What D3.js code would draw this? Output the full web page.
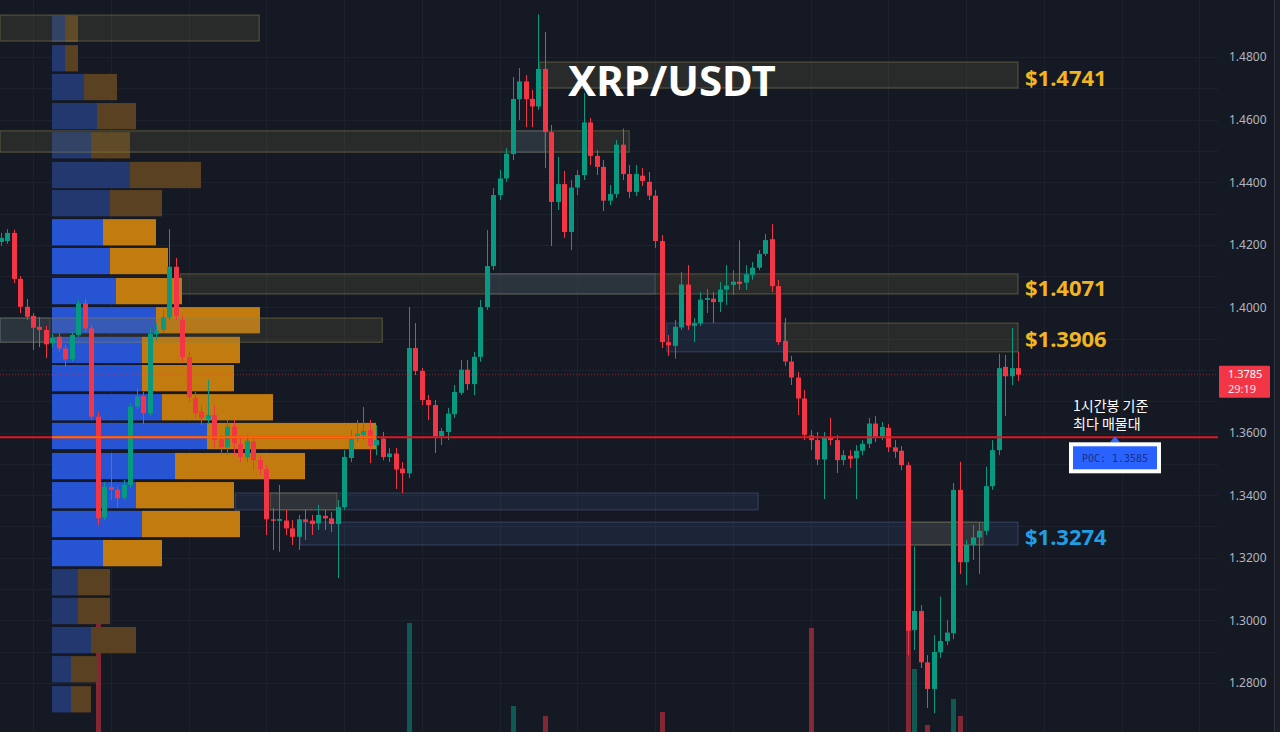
<!DOCTYPE html>
<html>
<head>
<meta charset="utf-8">
<script src="https://cdn.jsdelivr.net/npm/d3@7/dist/d3.min.js"></script>
<style>
  html, body { margin: 0; padding: 0; background: #151924; }
  svg { display: block; }
</style>
</head>
<body>
<svg id="chart" width="1280" height="732"></svg>
<script>
// 1시간봉 캔들 (왼쪽 -> 오른쪽)
var opens = [1.4209,1.4212,1.4238,1.4091,1.4002,1.3973,1.3938,1.3928,1.3885,1.3906,
  1.3869,1.3834,1.3912,1.4013,1.3933,1.3651,1.3329,1.3426,1.3417,1.3392,
  1.3433,1.3683,1.3717,1.3662,1.3914,1.3928,1.3968,1.4130,1.3960,1.3841,
  1.3710,1.3667,1.3643,1.3656,1.3579,1.3553,1.3619,1.3564,1.3521,1.3571,
  1.3512,1.3483,1.3323,1.3318,1.3319,1.3294,1.3267,1.3323,1.3319,1.3310,
  1.3334,1.3326,1.3308,1.3362,1.3519,1.3580,1.3592,1.3608,1.3560,1.3581,
  1.3522,1.3533,1.3485,1.3470,1.3870,1.3797,1.3704,1.3688,1.3589,1.3602,
  1.3659,1.3727,1.3801,1.3755,1.3842,1.4001,1.4132,1.4359,1.4412,1.4490,
  1.4665,1.4722,1.4666,1.4642,1.4762,1.4560,1.4337,1.4394,1.4241,1.4383,
  1.4423,1.4591,1.4484,1.4449,1.4341,1.4362,1.4520,1.4426,1.4369,1.4421,
  1.4401,1.4357,1.4212,1.3889,1.3877,1.3936,1.4073,1.3941,1.3949,1.4024,
  1.4028,1.4017,1.4057,1.4072,1.4082,1.4079,1.4104,1.4127,1.4171,1.4218,
  1.4068,1.3893,1.3827,1.3776,1.3709,1.3591,1.3576,1.3514,1.3586,1.3576,
  1.3512,1.3526,1.3518,1.3542,1.3564,1.3629,1.3588,1.3615,1.3553,1.3542,
  1.3496,1.2969,1.3030,1.2866,1.2781,1.2898,1.2934,1.2959,1.3417,1.3186,
  1.3241,1.3265,1.3286,1.3429,1.3544,1.3810,1.3780,1.3806];
var highs = [1.4238,1.4250,1.4248,1.4100,1.4027,1.3982,1.3969,1.3941,1.3915,1.3918,
  1.3880,1.3921,1.4024,1.4027,1.3944,1.3666,1.3442,1.3535,1.3429,1.3449,
  1.3695,1.3742,1.3730,1.3934,1.3950,1.3992,1.4250,1.4158,1.3976,1.3858,
  1.3730,1.3688,1.3768,1.3688,1.3592,1.3640,1.3640,1.3583,1.3592,1.3589,
  1.3528,1.3496,1.3359,1.3433,1.3353,1.3321,1.3337,1.3353,1.3337,1.3369,
  1.3353,1.3346,1.3385,1.3544,1.3608,1.3640,1.3682,1.3640,1.3624,1.3602,
  1.3551,1.3551,1.3506,1.4001,1.3950,1.3806,1.3720,1.3704,1.3615,1.3679,
  1.3752,1.3832,1.3832,1.3858,1.4024,1.4247,1.4381,1.4439,1.4509,1.4736,
  1.4765,1.4742,1.4695,1.4936,1.4880,1.4583,1.4481,1.4436,1.4407,1.4439,
  1.4685,1.4605,1.4503,1.4471,1.4391,1.4535,1.4571,1.4455,1.4455,1.4445,
  1.4433,1.4375,1.4231,1.3912,1.3960,1.4113,1.4135,1.3966,1.4049,1.4059,
  1.4049,1.4081,1.4135,1.4119,1.4214,1.4135,1.4145,1.4183,1.4235,1.4266,
  1.4088,1.3966,1.3845,1.3794,1.3736,1.3608,1.3602,1.3602,1.3647,1.3592,
  1.3544,1.3544,1.3560,1.3576,1.3647,1.3653,1.3634,1.3627,1.3576,1.3557,
  1.3506,1.3236,1.3049,1.2889,1.2953,1.3076,1.3001,1.3439,1.3507,1.3257,
  1.3305,1.3314,1.3491,1.3576,1.3852,1.3848,1.3934,1.3858];
var lows = [1.4196,1.4203,1.4078,1.3982,1.3960,1.3864,1.3873,1.3838,1.3873,1.3858,
  1.3811,1.3826,1.3906,1.3921,1.3640,1.3305,1.3321,1.3385,1.3359,1.3385,
  1.3423,1.3675,1.3627,1.3653,1.3896,1.3918,1.3960,1.3960,1.3826,1.3698,
  1.3647,1.3624,1.3627,1.3551,1.3528,1.3528,1.3528,1.3506,1.3506,1.3480,
  1.3465,1.3273,1.3225,1.3219,1.3273,1.3241,1.3225,1.3257,1.3273,1.3289,
  1.3289,1.3282,1.3135,1.3353,1.3506,1.3570,1.3576,1.3503,1.3528,1.3512,
  1.3506,1.3420,1.3407,1.3455,1.3784,1.3688,1.3640,1.3535,1.3560,1.3576,
  1.3647,1.3720,1.3736,1.3720,1.3826,1.3992,1.4119,1.4343,1.4401,1.4471,
  1.4599,1.4576,1.4576,1.4631,1.4445,1.4196,1.4311,1.4222,1.4183,1.4359,
  1.4407,1.4455,1.4423,1.4308,1.4327,1.4350,1.4407,1.4350,1.4356,1.4388,
  1.4343,1.4190,1.3870,1.3845,1.3836,1.3928,1.3928,1.3889,1.3941,1.3982,
  1.3950,1.3985,1.4008,1.4040,1.4056,1.4056,1.4088,1.4119,1.4164,1.4049,
  1.3880,1.3813,1.3752,1.3656,1.3576,1.3544,1.3496,1.3388,1.3560,1.3471,
  1.3496,1.3487,1.3388,1.3528,1.3551,1.3570,1.3576,1.3538,1.3519,1.3480,
  1.2889,1.2905,1.2848,1.2720,1.2704,1.2880,1.2921,1.2940,1.3148,1.3113,
  1.3193,1.3148,1.3273,1.3417,1.3528,1.3653,1.3752,1.3765];
var closes = [1.4222,1.4238,1.4091,1.4002,1.3970,1.3935,1.3928,1.3882,1.3903,1.3869,
  1.3834,1.3912,1.4013,1.3933,1.3651,1.3326,1.3427,1.3417,1.3390,1.3433,
  1.3683,1.3715,1.3662,1.3917,1.3925,1.3968,1.4130,1.3973,1.3841,1.3713,
  1.3662,1.3646,1.3656,1.3576,1.3553,1.3619,1.3566,1.3523,1.3574,1.3512,
  1.3483,1.3323,1.3319,1.3324,1.3294,1.3267,1.3323,1.3315,1.3308,1.3337,
  1.3326,1.3308,1.3362,1.3522,1.3580,1.3596,1.3605,1.3557,1.3576,1.3522,
  1.3533,1.3482,1.3470,1.3870,1.3797,1.3704,1.3688,1.3588,1.3605,1.3661,
  1.3730,1.3801,1.3755,1.3842,1.4001,1.4132,1.4359,1.4412,1.4491,1.4666,
  1.4722,1.4665,1.4642,1.4762,1.4560,1.4337,1.4394,1.4241,1.4383,1.4423,
  1.4591,1.4484,1.4449,1.4341,1.4362,1.4520,1.4426,1.4369,1.4426,1.4404,
  1.4357,1.4212,1.3889,1.3879,1.3938,1.4073,1.3942,1.3950,1.4025,1.4030,
  1.4017,1.4057,1.4070,1.4082,1.4075,1.4106,1.4127,1.4171,1.4215,1.4068,
  1.3889,1.3827,1.3776,1.3709,1.3593,1.3576,1.3514,1.3583,1.3576,1.3512,
  1.3528,1.3516,1.3542,1.3564,1.3629,1.3588,1.3618,1.3553,1.3539,1.3496,
  1.2967,1.3030,1.2866,1.2781,1.2899,1.2934,1.2961,1.3417,1.3186,1.3241,
  1.3265,1.3286,1.3429,1.3544,1.3806,1.3780,1.3806,1.3785];

// 화면에 보이는 거래량 막대만 (캔들 번호, 거래량 M)
var volIndex = [15, 63, 79, 84, 102, 125, 140, 141, 143, 147, 148];
var volValues = [53.1, 53.1, 28.2, 25.2, 26.4, 51.6, 51.0, 39.3, 22.5, 30.3, 25.2];

// 매물대 (각 구간 상단 가격, 매수/매도 거래량 M)
var profileTops = [1.4932,1.4838,1.4746,1.4653,1.4560,1.4465,1.4375,1.4282,1.4190,1.4094,
  1.4001,1.3906,1.3816,1.3723,1.3631,1.3535,1.3442,1.3350,1.3257,1.3164,
  1.3072,1.2979,1.2886,1.2790];
var profileBuy = [1.3,1.3,3.2,4.5,3.9,7.8,5.8,5.1,5.8,6.4,10.4,9.0,9.0,11.0,15.5,12.3,8.4,9.0,5.1,2.6,2.6,3.9,1.9,1.9];
var profileSell = [1.3,1.3,3.3,3.9,3.9,7.1,5.2,5.3,5.8,6.6,10.4,9.8,9.2,11.1,16.9,13.0,9.8,9.8,5.9,3.2,3.2,4.5,2.6,2.0];
var valueAreaHigh = 1.4282, valueAreaLow = 1.3257;
var pocPrice = 1.3585;
var lastPrice = 1.3785, countdown = "29:19";

// 지지/저항 박스 (시작 캔들, 끝 캔들, 상단, 하단, 종류)
var zoneStart = [-0.1, -0.1, 78.9, 83.2, 27.7, 75.5, 102.8, 121, -0.1, -0.1, 36.2, 41.6, 46.2, 140.3];
var zoneEnd   = [39.9, 97, 84, 157, 157, 101, 121, 157, 58.9, 7.6, 116.9, 51.9, 157, 151.6];
var zoneHigh  = [1.4934, 1.4564, 1.4564, 1.4784, 1.4107, 1.4107, 1.3950, 1.3950, 1.3966, 1.3966, 1.3407, 1.3407, 1.3314, 1.3314];
var zoneLow   = [1.4851, 1.4496, 1.4496, 1.4701, 1.4043, 1.4043, 1.3858, 1.3858, 1.3889, 1.3889, 1.3353, 1.3353, 1.3241, 1.3241];
var zoneKind  = ["y", "y", "b", "y", "y", "b", "b", "y", "y", "b", "b", "y", "b", "y"];

var levelLabels = ["$1.4741", "$1.4071", "$1.3906", "$1.3274"];
var levelPrices = [1.4741, 1.4071, 1.3906, 1.3274];
var levelKind = ["y", "y", "y", "b"];

// 1.3800 은 현재가 표시에 가려짐
var priceTicks = [1.28, 1.30, 1.32, 1.34, 1.36, 1.40, 1.42, 1.44, 1.46, 1.48];

function drawChart() {
  var plotRight = 1218;
  var up = "#089981", down = "#f23645";

  var svg = d3.select("#chart");
  var x = d3.scaleLinear().domain([0, 157]).range([0.6, 1018]);
  var y = d3.scaleLinear().domain([1.28, 1.48]).range([683, 57]);
  var vol = d3.scaleLinear().domain([0, 60]).range([800, 600]);
  var prof = d3.scaleLinear().domain([0, 40]).range([52, 452]);

  svg.append("rect").attr("width", 1280).attr("height", 732).attr("fill", "#151924");

  // 격자
  var grid = svg.append("g").attr("stroke", "#1d212e").attr("stroke-width", 1);
  grid.selectAll(".h").data(y.ticks(25)).enter().append("line")
    .attr("x1", 0).attr("x2", plotRight)
    .attr("y1", function(d) { return Math.round(y(d)) + 0.5; })
    .attr("y2", function(d) { return Math.round(y(d)) + 0.5; });
  grid.selectAll(".v").data(d3.range(5, 190, 12)).enter().append("line")
    .attr("x1", function(d) { return Math.round(x(d)) + 0.5; })
    .attr("x2", function(d) { return Math.round(x(d)) + 0.5; })
    .attr("y1", 0).attr("y2", 732);

  // 거래량
  svg.append("g").selectAll("rect")
    .data(volIndex.map(function(d, k) { return {i: d, v: volValues[k]}; }))
    .enter().append("rect")
    .attr("x", function(d) { return Math.round(x(d.i)) - 2; })
    .attr("width", 5)
    .attr("y", function(d) { return vol(d.v); })
    .attr("height", function(d) { return 732 - vol(d.v); })
    .attr("fill", function(d) { return closes[d.i] >= opens[d.i] ? up : down; })
    .attr("opacity", 0.5);

  // 매물대
  var rowH = 0.0084;
  var rows = profileTops.map(function(t, k) {
    return {top: t, buy: profileBuy[k], sell: profileSell[k],
            inVA: t <= valueAreaHigh + 0.0001 && t >= valueAreaLow - 0.0001};
  });
  var pg = svg.append("g");
  pg.selectAll(".buy").data(rows).enter().append("rect")
    .attr("x", prof(0))
    .attr("y", function(d) { return y(d.top); })
    .attr("width", function(d) { return prof(d.buy) - prof(0); })
    .attr("height", function(d) { return y(d.top - rowH) - y(d.top); })
    .attr("fill", function(d) { return d.inVA ? "#2754d3" : "#22386f"; });
  pg.selectAll(".sell").data(rows).enter().append("rect")
    .attr("x", function(d) { return prof(d.buy); })
    .attr("y", function(d) { return y(d.top); })
    .attr("width", function(d) { return prof(d.buy + d.sell) - prof(d.buy); })
    .attr("height", function(d) { return y(d.top - rowH) - y(d.top); })
    .attr("fill", function(d) { return d.inVA ? "#c27b0f" : "#5a4121"; });

  // 박스
  var zones = zoneStart.map(function(s, k) {
    return {s: s, e: zoneEnd[k], hi: zoneHigh[k], lo: zoneLow[k], kind: zoneKind[k]};
  });
  svg.append("g").selectAll("rect").data(zones).enter().append("rect")
    .attr("x", function(d) { return Math.max(0, x(d.s)); })
    .attr("y", function(d) { return y(d.hi); })
    .attr("width", function(d) { return x(d.e) - Math.max(0, x(d.s)); })
    .attr("height", function(d) { return y(d.lo) - y(d.hi); })
    .attr("fill", function(d) { return d.kind == "y" ? "rgba(120,115,70,0.2)" : "rgba(60,90,145,0.18)"; })
    .attr("stroke", function(d) { return d.kind == "y" ? "rgba(150,140,80,0.5)" : "rgba(100,120,160,0.4)"; })
    .attr("stroke-width", 1);

  // 캔들
  var candles = opens.map(function(o, i) {
    return {i: i, o: o, h: highs[i], l: lows[i], c: closes[i]};
  });
  var cg = svg.append("g").selectAll("g").data(candles).enter().append("g");
  cg.append("line")
    .attr("x1", function(d) { return Math.round(x(d.i)) + 0.5; })
    .attr("x2", function(d) { return Math.round(x(d.i)) + 0.5; })
    .attr("y1", function(d) { return y(d.h); })
    .attr("y2", function(d) { return y(d.l); })
    .attr("stroke", function(d) { return d.c >= d.o ? up : down; })
    .attr("stroke-width", 1);
  cg.append("rect")
    .attr("x", function(d) { return Math.round(x(d.i)) - 2; })
    .attr("width", 5)
    .attr("y", function(d) { return y(Math.max(d.o, d.c)); })
    .attr("height", function(d) { return Math.max(1.5, Math.abs(y(d.o) - y(d.c))); })
    .attr("fill", function(d) { return d.c >= d.o ? up : down; });

  // 현재가 점선, POC 선
  svg.append("line")
    .attr("x1", 0).attr("x2", plotRight)
    .attr("y1", y(lastPrice)).attr("y2", y(lastPrice))
    .attr("stroke", down).attr("stroke-opacity", 0.55)
    .attr("stroke-dasharray", "1,2");
  svg.append("line")
    .attr("x1", 0).attr("x2", plotRight)
    .attr("y1", y(pocPrice)).attr("y2", y(pocPrice))
    .attr("stroke", "#e3151e").attr("stroke-width", 2);
  var pocRow = rows.filter(function(d) { return pocPrice <= d.top && pocPrice >= d.top - rowH; })[0];
  svg.append("line")
    .attr("x1", prof(0)).attr("x2", prof(pocRow.buy + pocRow.sell))
    .attr("y1", y(pocPrice)).attr("y2", y(pocPrice))
    .attr("stroke", "#ff6d00").attr("stroke-width", 2);

  // 가격 라벨
  svg.append("g").selectAll("text").data(levelLabels).enter().append("text")
    .attr("x", x(157) + 7)
    .attr("y", function(d, k) { return y(levelPrices[k]) + 1.5; })
    .attr("dominant-baseline", "central")
    .attr("font-family", "'Noto Sans', 'Open Sans', sans-serif")
    .attr("font-weight", "bold")
    .attr("font-size", 22)
    .attr("fill", function(d, k) { return levelKind[k] == "y" ? "#f2b51f" : "#1f9fe3"; })
    .text(function(d) { return d; });

  svg.append("text")
    .attr("x", 568).attr("y", 96)
    .attr("font-family", "'Noto Sans', 'Open Sans', sans-serif")
    .attr("font-weight", "bold")
    .attr("font-size", 42)
    .attr("fill", "#ffffff")
    .text("XRP/USDT");

  // 가격 축
  var axis = d3.axisRight(y).tickValues(priceTicks)
    .tickFormat(d3.format(".4f")).tickSize(0).tickPadding(0);
  var ag = svg.append("g").attr("transform", "translate(1229,0)").call(axis);
  ag.select(".domain").remove();
  ag.selectAll("text")
    .attr("fill", "#b2b5be")
    .attr("font-family", "'Noto Sans', 'DejaVu Sans', sans-serif")
    .attr("font-size", 12);
  svg.append("line").attr("x1", 1274.5).attr("x2", 1274.5).attr("y1", 0).attr("y2", 732)
    .attr("stroke", "#2f333e");
  svg.append("rect").attr("x", 1275).attr("width", 5).attr("height", 732).attr("fill", "#1b1e27");

  // 현재가 표시
  var ly = y(lastPrice);
  svg.append("rect").attr("x", 1219).attr("y", ly - 9).attr("width", 51).attr("height", 32)
    .attr("rx", 1).attr("fill", down);
  svg.append("text").attr("x", 1228).attr("y", ly + 3.5)
    .attr("fill", "#fff").attr("font-family", "'Noto Sans', sans-serif").attr("font-size", 11)
    .text(d3.format(".4f")(lastPrice));
  svg.append("text").attr("x", 1228).attr("y", ly + 18.5)
    .attr("fill", "#ffe3e5").attr("font-family", "'Noto Sans', sans-serif").attr("font-size", 11)
    .text(countdown);

  // 설명 + POC 라벨
  var py = y(pocPrice);
  svg.append("text").attr("x", 1073).attr("y", py - 26)
    .attr("fill", "#fff").attr("font-family", "'Noto Sans CJK KR', sans-serif").attr("font-size", 14)
    .text("1시간봉 기준");
  svg.append("text").attr("x", 1073).attr("y", py - 8)
    .attr("fill", "#fff").attr("font-family", "'Noto Sans CJK KR', sans-serif").attr("font-size", 14)
    .text("최다 매물대");
  svg.append("path")
    .attr("d", "M1110," + (py + 5) + "L1115," + (py - 1) + "L1120," + (py + 5) + "Z")
    .attr("fill", "#2f6bff");
  svg.append("rect").attr("x", 1069).attr("y", py + 5).attr("width", 92).attr("height", 31)
    .attr("fill", "#ffffff");
  svg.append("rect").attr("x", 1073).attr("y", py + 9).attr("width", 84).attr("height", 23)
    .attr("fill", "#2962ff");
  svg.append("text").attr("x", 1115).attr("y", py + 21)
    .attr("text-anchor", "middle").attr("dominant-baseline", "central")
    .attr("fill", "#1b2f86").attr("font-family", "'DejaVu Sans Mono', monospace").attr("font-size", 10)
    .text("POC: " + d3.format(".4f")(pocPrice));
}

drawChart();
</script>
</body>
</html>
